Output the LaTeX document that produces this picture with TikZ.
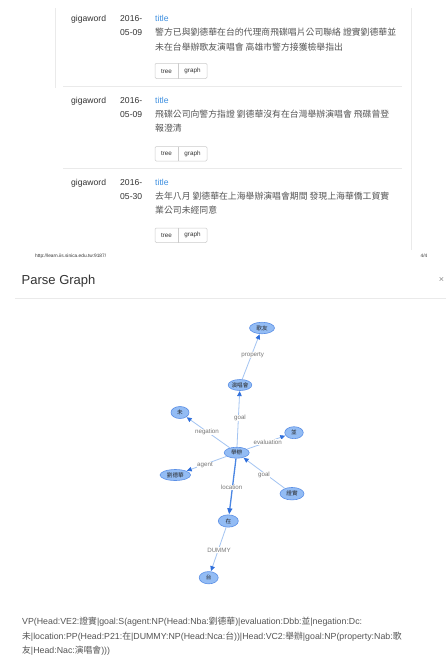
\documentclass[tikz,border=0pt]{standalone}
\usepackage{fontspec}
\setmainfont{Liberation Sans}
\newfontfamily\cjk{Noto Sans CJK TC}
\usetikzlibrary{arrows.meta,shapes.geometric}
\definecolor{txt}{HTML}{333333}
\definecolor{zhtxt}{HTML}{555555}
\definecolor{linkblue}{HTML}{3D8FE0}
\definecolor{sepgray}{HTML}{EAEAEA}
\definecolor{btnborder}{HTML}{CCCCCC}
\definecolor{nodefill}{HTML}{93BCF4}
\definecolor{nodeborder}{HTML}{5C90E6}
\definecolor{edgecol}{HTML}{A3C4F2}
\definecolor{tipcol}{HTML}{2F6FDC}
\definecolor{loccol}{HTML}{4A86E3}
\definecolor{lblcol}{HTML}{777777}
\newcommand\zh[1]{{\cjk #1}}
\tikzset{
  lat/.style={anchor=base west, inner sep=0, text=txt, font=\fontsize{8.6}{10}\selectfont},
  zhline/.style={anchor=base west, inner sep=0, text=zhtxt, font=\cjk\fontsize{8.85}{10}\selectfont},
  ttl/.style={anchor=base west, inner sep=0, text=linkblue, font=\fontsize{8.6}{10}\selectfont},
  btntxt/.style={anchor=center, inner sep=0, text=txt, font=\fontsize{6.3}{7}\selectfont},
  btnbox/.style={draw=btnborder, line width=0.5pt, rounded corners=1.2pt},
  sep/.style={draw=sepgray, line width=0.7pt},
  gnode/.style={ellipse, draw=nodeborder, fill=nodefill, line width=0.6pt, inner sep=0,
     text=black!85, font=\cjk\fontsize{5.6}{6}\selectfont},
  edge/.style={draw=edgecol, line width=0.8pt, -{Triangle[length=5pt,width=4.5pt,color=tipcol]}, shorten >=0.3pt},
  edgeloc/.style={draw=loccol, line width=1.3pt, -{Triangle[length=6pt,width=5pt,color=tipcol]}, shorten >=0.3pt},
  elbl/.style={inner sep=0.4pt, fill=white, text=lblcol, font=\fontsize{6.2}{7}\selectfont},
  bottomtxt/.style={anchor=base west, inner sep=0, text=zhtxt, font=\fontsize{8.8}{10}\selectfont},
}
\begin{document}
\begin{tikzpicture}[x=1pt,y=-1pt]
\useasboundingbox (0,0) rectangle (446,659);
\fill[white] (0,0) rectangle (446,659);

% card borders
\draw[sep] (55,8) -- (55,88);
\draw[sep] (411,8) -- (411,250);
\draw[sep] (63,86.5) -- (402,86.5);
\draw[sep] (63,168.3) -- (402,168.3);

% row 1
\node[lat] (g1) at (71,21.5) {gigaword};
\node[lat] (d1a) at (120,21.5) {2016-};
\node[lat] (d1b) at (120,35.5) {05-09};
\node[ttl] (t1) at (155,21.5) {title};
\node[zhline] (z1a) at (155,35.5) {警方已與劉德華在台的代理商飛碟唱片公司聯絡 證實劉德華並};
\node[zhline] (z1b) at (155,50) {未在台舉辦歌友演唱會 高雄市警方接獲檢舉指出};
\draw[btnbox] (155,63.3) rectangle (207,78.5);
\draw[draw=btnborder, line width=0.5pt] (178,63.3) -- (178,78.5);
\node[btntxt] (b1t) at (166.5,71) {tree};
\node[btntxt] (b1g) at (192.5,71) {graph};

% row 2
\node[lat] (g2) at (71,103.2) {gigaword};
\node[lat] (d2a) at (120,103.2) {2016-};
\node[lat] (d2b) at (120,117.2) {05-09};
\node[ttl] (t2) at (155,103.2) {title};
\node[zhline] (z2a) at (155,117.2) {飛碟公司向警方指證 劉德華沒有在台灣舉辦演唱會 飛碟曾登};
\node[zhline] (z2b) at (155,131.7) {報澄清};
\draw[btnbox] (155,146.5) rectangle (207,161);
\draw[draw=btnborder, line width=0.5pt] (178,146.5) -- (178,161);
\node[btntxt] (b2t) at (166.5,153.8) {tree};
\node[btntxt] (b2g) at (192.5,153.8) {graph};

% row 3
\node[lat] (g3) at (71,185.9) {gigaword};
\node[lat] (d3a) at (120,185.9) {2016-};
\node[lat] (d3b) at (120,199.9) {05-30};
\node[ttl] (t3) at (155,185.9) {title};
\node[zhline] (z3a) at (155,199.9) {去年八月 劉德華在上海舉辦演唱會期間 發現上海華僑工貿實};
\node[zhline] (z3b) at (155,213.5) {業公司未經同意};
\draw[btnbox] (155,228) rectangle (207,242.5);
\draw[draw=btnborder, line width=0.5pt] (178,228) -- (178,242.5);
\node[btntxt] (b3t) at (166.5,235.3) {tree};
\node[btntxt] (b3g) at (192.5,235.3) {graph};

% footer
\node[anchor=west, inner sep=0, text=txt, font=\fontsize{4.8}{5}\selectfont] (url) at (35,256) {http://learn.iis.sinica.edu.tw:9187/};
\node[anchor=west, inner sep=0, text=txt, font=\fontsize{4.8}{5}\selectfont] (pg) at (420.5,256) {4/4};

% modal header
\node[anchor=base west, inner sep=0, text=txt, font=\fontsize{13}{15}\selectfont] (ptitle) at (21.5,284.7) {Parse Graph};
\node[inner sep=0, text=black!45, font=\fontsize{9}{10}\selectfont] (close) at (441.5,280) {×};
\draw[sep] (15,298) -- (446,298);

% graph nodes
\node[gnode, minimum width=25pt, minimum height=11.5pt] (gy) at (262,328) {歌友};
\node[gnode, minimum width=23pt, minimum height=11pt] (ych) at (240,385) {演唱會};
\node[gnode, minimum width=18pt, minimum height=12pt] (wei) at (180,412.5) {未};
\node[gnode, minimum width=18.5pt, minimum height=12pt] (bing) at (294,432.7) {並};
\node[gnode, minimum width=25pt, minimum height=11pt] (jb) at (236.7,452.7) {舉辦};
\node[gnode, minimum width=30.5pt, minimum height=11pt] (ldh) at (175.3,475) {劉德華};
\node[gnode, minimum width=24pt, minimum height=12.5pt] (zs) at (292,493.7) {證實};
\node[gnode, minimum width=20pt, minimum height=12.3pt] (zai) at (228.3,521) {在};
\node[gnode, minimum width=19pt, minimum height=12.3pt] (tai) at (208.7,577.7) {台};

% edges
\draw[edge] (ych) -- (gy);
\draw[edge] (jb) -- (ych);
\draw[edge] (jb) -- (wei);
\draw[edge] (jb) -- (bing);
\draw[edge] (jb) -- (ldh);
\draw[edge] (zs) -- (jb);
\draw[edgeloc] (jb) -- (zai);
\draw[edge] (zai) -- (tai);

% edge labels
\node[elbl] (lprop) at (252.7,355) {property};
\node[elbl] (lgoal1) at (240,418) {goal};
\node[elbl] (lneg) at (207,432) {negation};
\node[elbl] (leval) at (267.7,442) {evaluation};
\node[elbl] (lagent) at (205,465) {agent};
\node[elbl] (lgoal2) at (264,475) {goal};
\node[elbl] (lloc) at (231.7,487.7) {location};
\node[elbl] (ldummy) at (219,550) {DUMMY};

% bottom text
\node[bottomtxt] (bt1) at (22,624.2) {VP(Head:VE2:\zh{證實}|goal:S(agent:NP(Head:Nba:\zh{劉德華})|evaluation:Dbb:\zh{並}|negation:Dc:};
\node[bottomtxt] (bt2) at (22,639.2) {\zh{未}|location:PP(Head:P21:\zh{在}|DUMMY:NP(Head:Nca:\zh{台}))|Head:VC2:\zh{舉辦}|goal:NP(property:Nab:\zh{歌}};
\node[bottomtxt] (bt3) at (22,653.7) {\zh{友}|Head:Nac:\zh{演唱會})))};
\end{tikzpicture}
\end{document}
